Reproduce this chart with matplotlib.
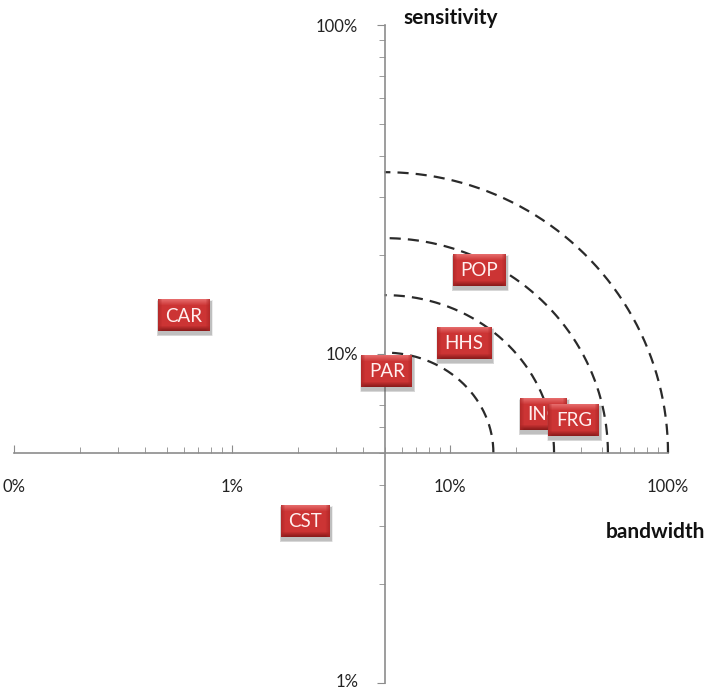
import numpy as np
import matplotlib
matplotlib.use("Agg")
import matplotlib.pyplot as plt
from matplotlib.patches import Rectangle
from matplotlib.transforms import ScaledTranslation
from matplotlib.ticker import FixedLocator, FixedFormatter, LogLocator, NullFormatter

# ---- data ----
labels = ["CAR", "PAR", "POP", "HHS", "INC", "FRG", "CST"]
bandwidth = [0.0060, 0.0513, 0.136, 0.116, 0.267, 0.37, 0.0216]
sensitivity = [0.131, 0.0887, 0.180, 0.108, 0.0657, 0.063, 0.031]

arc_x_ends = [0.158, 0.30, 0.53, 1.0]
arc_y_ends = [0.101, 0.151, 0.225, 0.357]
origin = (0.05, 0.05)

xtick_vals = [0.001, 0.01, 0.1, 1.0]
xtick_labels = ["0%", "1%", "10%", "100%"]
ytick_vals = [0.01, 0.1, 1.0]
ytick_labels = ["1%", "10%", "100%"]

plt.rcParams['font.family'] = ['Lato', 'DejaVu Sans']

W, H = 708, 689
fig = plt.figure(figsize=(W / 100, H / 100), dpi=100)
ax = fig.add_axes([14.3 / W, 1 - 683 / H, (668 - 14.3) / W, (683 - 25) / H])
ax.set_xscale('log')
ax.set_yscale('log')
ax.set_xlim(0.001, 1.0)
ax.set_ylim(0.01, 1.0)

for s in ['top', 'right']:
    ax.spines[s].set_visible(False)
ax.spines['left'].set_position(('data', origin[0]))
ax.spines['bottom'].set_position(('data', origin[1]))
for s in ['left', 'bottom']:
    ax.spines[s].set_color('#8c8c8c')
    ax.spines[s].set_linewidth(1.2)

ax.xaxis.set_major_locator(FixedLocator(xtick_vals))
ax.xaxis.set_major_formatter(FixedFormatter(xtick_labels))
ax.yaxis.set_major_locator(FixedLocator(ytick_vals))
ax.yaxis.set_major_formatter(FixedFormatter(ytick_labels))
ax.xaxis.set_minor_locator(LogLocator(base=10, subs=np.arange(2, 10)))
ax.yaxis.set_minor_locator(LogLocator(base=10, subs=np.arange(2, 10)))
ax.xaxis.set_minor_formatter(NullFormatter())
ax.yaxis.set_minor_formatter(NullFormatter())

ax.tick_params(axis='x', which='both', direction='in', colors='#8c8c8c',
               labelcolor='#222222', labelsize=12, pad=19)
ax.tick_params(axis='x', which='major', length=6)
ax.tick_params(axis='x', which='minor', length=4)
ax.tick_params(axis='y', which='both', direction='out', colors='#8c8c8c',
               labelcolor='#222222', labelsize=12, pad=13)
ax.tick_params(axis='y', which='major', length=6)
ax.tick_params(axis='y', which='minor', length=4)

# dashed arcs (quarter ellipses in log space around the origin)
t = np.linspace(0, np.pi / 2, 200)
lx0, ly0 = np.log10(origin[0]), np.log10(origin[1])
for xe, ye in zip(arc_x_ends, arc_y_ends):
    lx = lx0 + (np.log10(xe) - lx0) * np.cos(t)
    ly = ly0 + (np.log10(ye) - ly0) * np.sin(t)
    ax.plot(10 ** lx, 10 ** ly, color='#2a2a2a', lw=1.6, ls=(0, (5, 3.2)),
            clip_on=False, zorder=2)

# ---- beveled red label boxes ----
def box_image(h, w):
    base = np.array([204, 52, 52], float)
    light = np.array([236, 120, 120], float)
    dark = np.array([140, 28, 28], float)
    side = np.array([172, 38, 38], float)
    img = np.tile(base, (h, w, 1))
    yy = np.arange(h)[:, None]
    xx = np.arange(w)[None, :]
    # top highlight
    ft = np.clip(1 - yy / 6.0, 0, 1)[..., None]
    img = img * (1 - ft * 0.8) + light * ft * 0.8
    # bottom shade
    fb = np.clip(1 - (h - 1 - yy) / 5.0, 0, 1)[..., None]
    img = img * (1 - fb) + dark * fb
    # side shades
    fs = np.clip(1 - np.minimum(xx, w - 1 - xx) / 4.0, 0, 1)[..., None]
    fs = np.broadcast_to(fs, (h, w, 1))
    img = img * (1 - fs * 0.7) + side * fs * 0.7
    return np.clip(img, 0, 255).astype(np.uint8)

renderer = fig.canvas.get_renderer()
box_h = 32
for i, (lab, xv, yv) in enumerate(zip(labels, bandwidth, sensitivity)):
    px, py = ax.transData.transform((xv, yv))
    tmp = fig.text(0, 0, lab, fontsize=13.5)
    tw = tmp.get_window_extent(renderer).width
    tmp.remove()
    bw = round(tw + 15)
    l, b = px - bw / 2, py - box_h / 2
    # soft shadow
    for k, a in [(4, 0.10), (3, 0.14), (2, 0.18)]:
        fig.patches.append(Rectangle(((l + 1 - k / 2) / W, (b - 3 - k / 2) / H),
                                     (bw + k) / W, (box_h + k) / H,
                                     transform=fig.transFigure, facecolor='#555555',
                                     edgecolor='none', alpha=a, zorder=10 + 2 * i))
    iax = fig.add_axes([l / W, b / H, bw / W, box_h / H], zorder=11 + 2 * i)
    iax.imshow(box_image(box_h, bw), aspect='auto', extent=(0, 1, 0, 1),
               interpolation='bilinear')
    iax.set_axis_off()
    iax.text(0.5, 0.48, lab, ha='center', va='center', fontsize=13.5,
             color='#fff0f0', transform=iax.transAxes)

fig.text(451 / W, 1 - 18 / H, "sensitivity", ha='center', va='center',
         fontsize=15, fontweight='bold', color='#111111')
fig.text(655 / W, 1 - 532 / H, "bandwidth", ha='center', va='center',
         fontsize=15, fontweight='bold', color='#111111')

# keep the bottom "1%" label inside the canvas
ylabs = ax.get_yticklabels()
ylabs[0].set_transform(ylabs[0].get_transform() + ScaledTranslation(0, 2 / 72, fig.dpi_scale_trans))

fig.savefig("out.png", dpi=100)
